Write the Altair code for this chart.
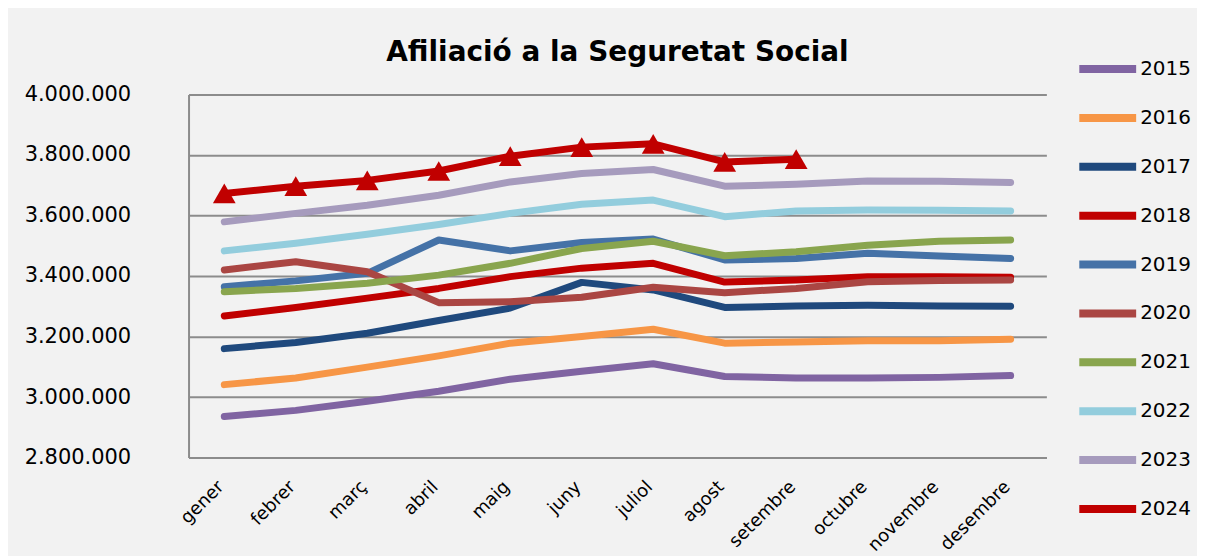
import altair as alt
import pandas as pd

months = ["gener", "febrer", "març", "abril", "maig", "juny", "juliol",
          "agost", "setembre", "octubre", "novembre", "desembre"]
years = ["2015", "2016", "2017", "2018", "2019", "2020", "2021", "2022", "2023", "2024"]

v2015 = [2936000, 2956000, 2986000, 3019000, 3059000, 3085000, 3110000, 3068000, 3063000, 3063000, 3065000, 3071000]
v2016 = [3041000, 3063000, 3099000, 3136000, 3178000, 3200000, 3224000, 3178000, 3182000, 3186000, 3186000, 3191000]
v2017 = [3160000, 3180000, 3211000, 3253000, 3294000, 3379000, 3354000, 3296000, 3301000, 3303000, 3301000, 3300000]
v2018 = [3268000, 3296000, 3327000, 3359000, 3398000, 3426000, 3442000, 3380000, 3387000, 3398000, 3398000, 3396000]
v2019 = [3365000, 3384000, 3409000, 3519000, 3483000, 3511000, 3522000, 3453000, 3458000, 3475000, 3466000, 3458000]
v2020 = [3420000, 3447000, 3414000, 3312000, 3315000, 3330000, 3363000, 3345000, 3359000, 3381000, 3385000, 3387000]
v2021 = [3348000, 3359000, 3376000, 3403000, 3442000, 3491000, 3515000, 3467000, 3480000, 3502000, 3515000, 3519000]
v2022 = [3483000, 3508000, 3538000, 3570000, 3607000, 3637000, 3651000, 3596000, 3615000, 3618000, 3617000, 3615000]
v2023 = [3579000, 3607000, 3634000, 3667000, 3711000, 3739000, 3752000, 3697000, 3703000, 3714000, 3713000, 3709000]
v2024 = [3673000, 3697000, 3716000, 3747000, 3796000, 3826000, 3837000, 3777000, 3786000]

colors = ["#8064a2", "#f79646", "#1f497d", "#c00000", "#4572a7",
          "#aa4643", "#89a54e", "#93cddd", "#a69bbd", "#c00000"]

series = [v2015, v2016, v2017, v2018, v2019, v2020, v2021, v2022, v2023, v2024]
rows = []
for y, vals in zip(years, series):
    for i, v in enumerate(vals):
        rows.append({"mes": months[i], "any": y, "valor": v, "ordre": int(y)})
df = pd.DataFrame(rows)

FONT = "DejaVu Sans"

x = alt.X("mes:N", sort=months, title=None,
          axis=alt.Axis(labelAngle=-45, labelFontSize=18, labelFont=FONT, labelColor="#000000",
                        ticks=False, domain=True, domainColor="#8c8c8c", domainWidth=2,
                        labelPadding=20, labelOffset=-10, grid=False))
y = alt.Y("valor:Q", title=None,
          scale=alt.Scale(domain=[2800000, 4000000], nice=False, zero=False),
          axis=alt.Axis(values=[2800000, 3000000, 3200000, 3400000, 3600000, 3800000, 4000000],
                        labelExpr="replace(replace(format(datum.value, ','), ',', '.'), ',', '.')",
                        labelFontSize=21, labelFont=FONT, labelColor="#000000", ticks=False,
                        labelPadding=58, domain=True, domainColor="#8c8c8c", domainWidth=2,
                        grid=True, gridColor="#8c8c8c", gridWidth=2))

color = alt.Color("any:N", scale=alt.Scale(domain=years, range=colors),
                  legend=alt.Legend(title=None, orient="none", legendX=889, legendY=-58,
                                    symbolType="stroke", symbolStrokeWidth=8, symbolSize=3249,
                                    labelFontSize=20, labelFont=FONT, labelColor="#000000",
                                    labelOffset=0, rowPadding=0))

lines = alt.Chart(df).mark_line(strokeWidth=7, strokeCap="round", strokeJoin="round").encode(
    x=x, y=y, color=color, order=alt.Order("ordre:Q"), detail="any:N"
)

points = alt.Chart(df[df["any"] == "2024"]).mark_point(
    shape="triangle-up", filled=True, size=520, opacity=1, color="#c00000"
).encode(x=x, y=y)

chart = alt.layer(lines, points).properties(
    width=860, height=364,
    title=alt.TitleParams("Afiliació a la Seguretat Social", font=FONT, fontSize=28,
                          fontWeight="bold", color="#000000", anchor="middle", offset=-30),
    autosize=alt.AutoSizeParams(type="none"),
    padding={"left": 181, "top": 86, "right": 151, "bottom": 98},
    background="#f2f2f2",
).configure_view(stroke=None)

chart.save("out.html", embed_options={"renderer": "svg", "actions": False})
